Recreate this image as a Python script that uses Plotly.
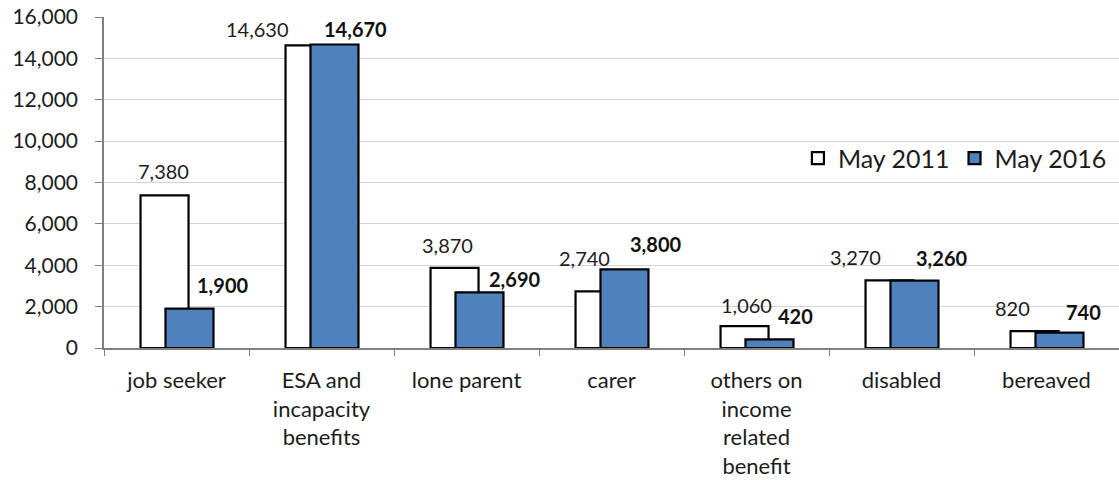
import plotly.graph_objects as go

categories = ["job seeker", "ESA and incapacity benefits", "lone parent", "carer",
              "others on income related benefit", "disabled", "bereaved"]
tick_labels = ["job seeker", "ESA and<br>incapacity<br>benefits", "lone parent", "carer",
               "others on<br>income<br>related<br>benefit", "disabled", "bereaved"]
may_2011 = [7380, 14630, 3870, 2740, 1060, 3270, 820]
may_2016 = [1900, 14670, 2690, 3800, 420, 3260, 740]
y_ticks = [0, 2000, 4000, 6000, 8000, 10000, 12000, 14000, 16000]

# label placement (pixel offsets from category centre / bar top) - style only
w_dx = [-13.5, -64.5, -19.5, -27.5, -10.5, -46, -34.5]
w_dy = [24, 16, 23, 33, 21.5, 23, 23.5]
b_dx = [45.5, 33.5, 47.5, 43.5, 38.5, 39.5, 36.5]
b_dy = [24, 15.5, 13, 25, 23, 23, 21]

FONT = "Lato"
TXT = "#1c1c1c"

fig = go.Figure()
fig.add_trace(go.Bar(
    x=categories, y=may_2011, name="May 2011",
    marker=dict(color="white", line=dict(color="black", width=2.2)),
    width=0.331, offset=-0.248,
))
fig.add_trace(go.Bar(
    x=categories, y=may_2016, name="May 2016",
    marker=dict(color="#4F81BD", line=dict(color="black", width=2.2)),
    width=0.331, offset=-0.076,
))

anns = []
for i, c in enumerate(categories):
    anns.append(dict(x=c, y=may_2011[i], text=f"{may_2011[i]:,}", showarrow=False,
                     xshift=w_dx[i], yshift=w_dy[i], yanchor="middle", xanchor="center",
                     font=dict(family=FONT, size=20, color=TXT)))
    anns.append(dict(x=c, y=may_2016[i], text=f"<b>{may_2016[i]:,}</b>", showarrow=False,
                     xshift=b_dx[i], yshift=b_dy[i], yanchor="middle", xanchor="center",
                     font=dict(family=FONT, size=20, color="#111111")))

fig.update_layout(
    width=1119, height=480,
    margin=dict(l=104, r=0, t=17, b=132),
    paper_bgcolor="white", plot_bgcolor="white",
    barmode="overlay",
    font=dict(family=FONT, color=TXT),
    showlegend=True,
    legend=dict(orientation="h", x=0.993, xanchor="right", y=0.573, yanchor="middle",
                font=dict(family=FONT, size=25, color=TXT), bgcolor="rgba(0,0,0,0)",
                itemwidth=30),
    annotations=anns,
    xaxis=dict(
        type="category", tickmode="array", tickvals=categories, ticktext=tick_labels,
        tickson="boundaries", ticks="outside", ticklen=6, tickcolor="#808080",
        showline=True, linecolor="#808080", linewidth=1.5,
        showgrid=False, tickfont=dict(family=FONT, size=22, color=TXT),
        range=[-0.5, 6.5], tickangle=0, ticklabelstandoff=12,
    ),
    yaxis=dict(
        range=[0, 16000], tickvals=y_ticks, tickformat=",d",
        ticks="outside", ticklen=7, tickcolor="#808080",
        showline=True, linecolor="#808080", linewidth=1.5,
        showgrid=True, gridcolor="#D4D4D4", gridwidth=1.2,
        zeroline=False,
        tickfont=dict(family=FONT, size=21, color=TXT),
        ticklabelstandoff=13,
    ),
)

fig.write_html("out.html")
